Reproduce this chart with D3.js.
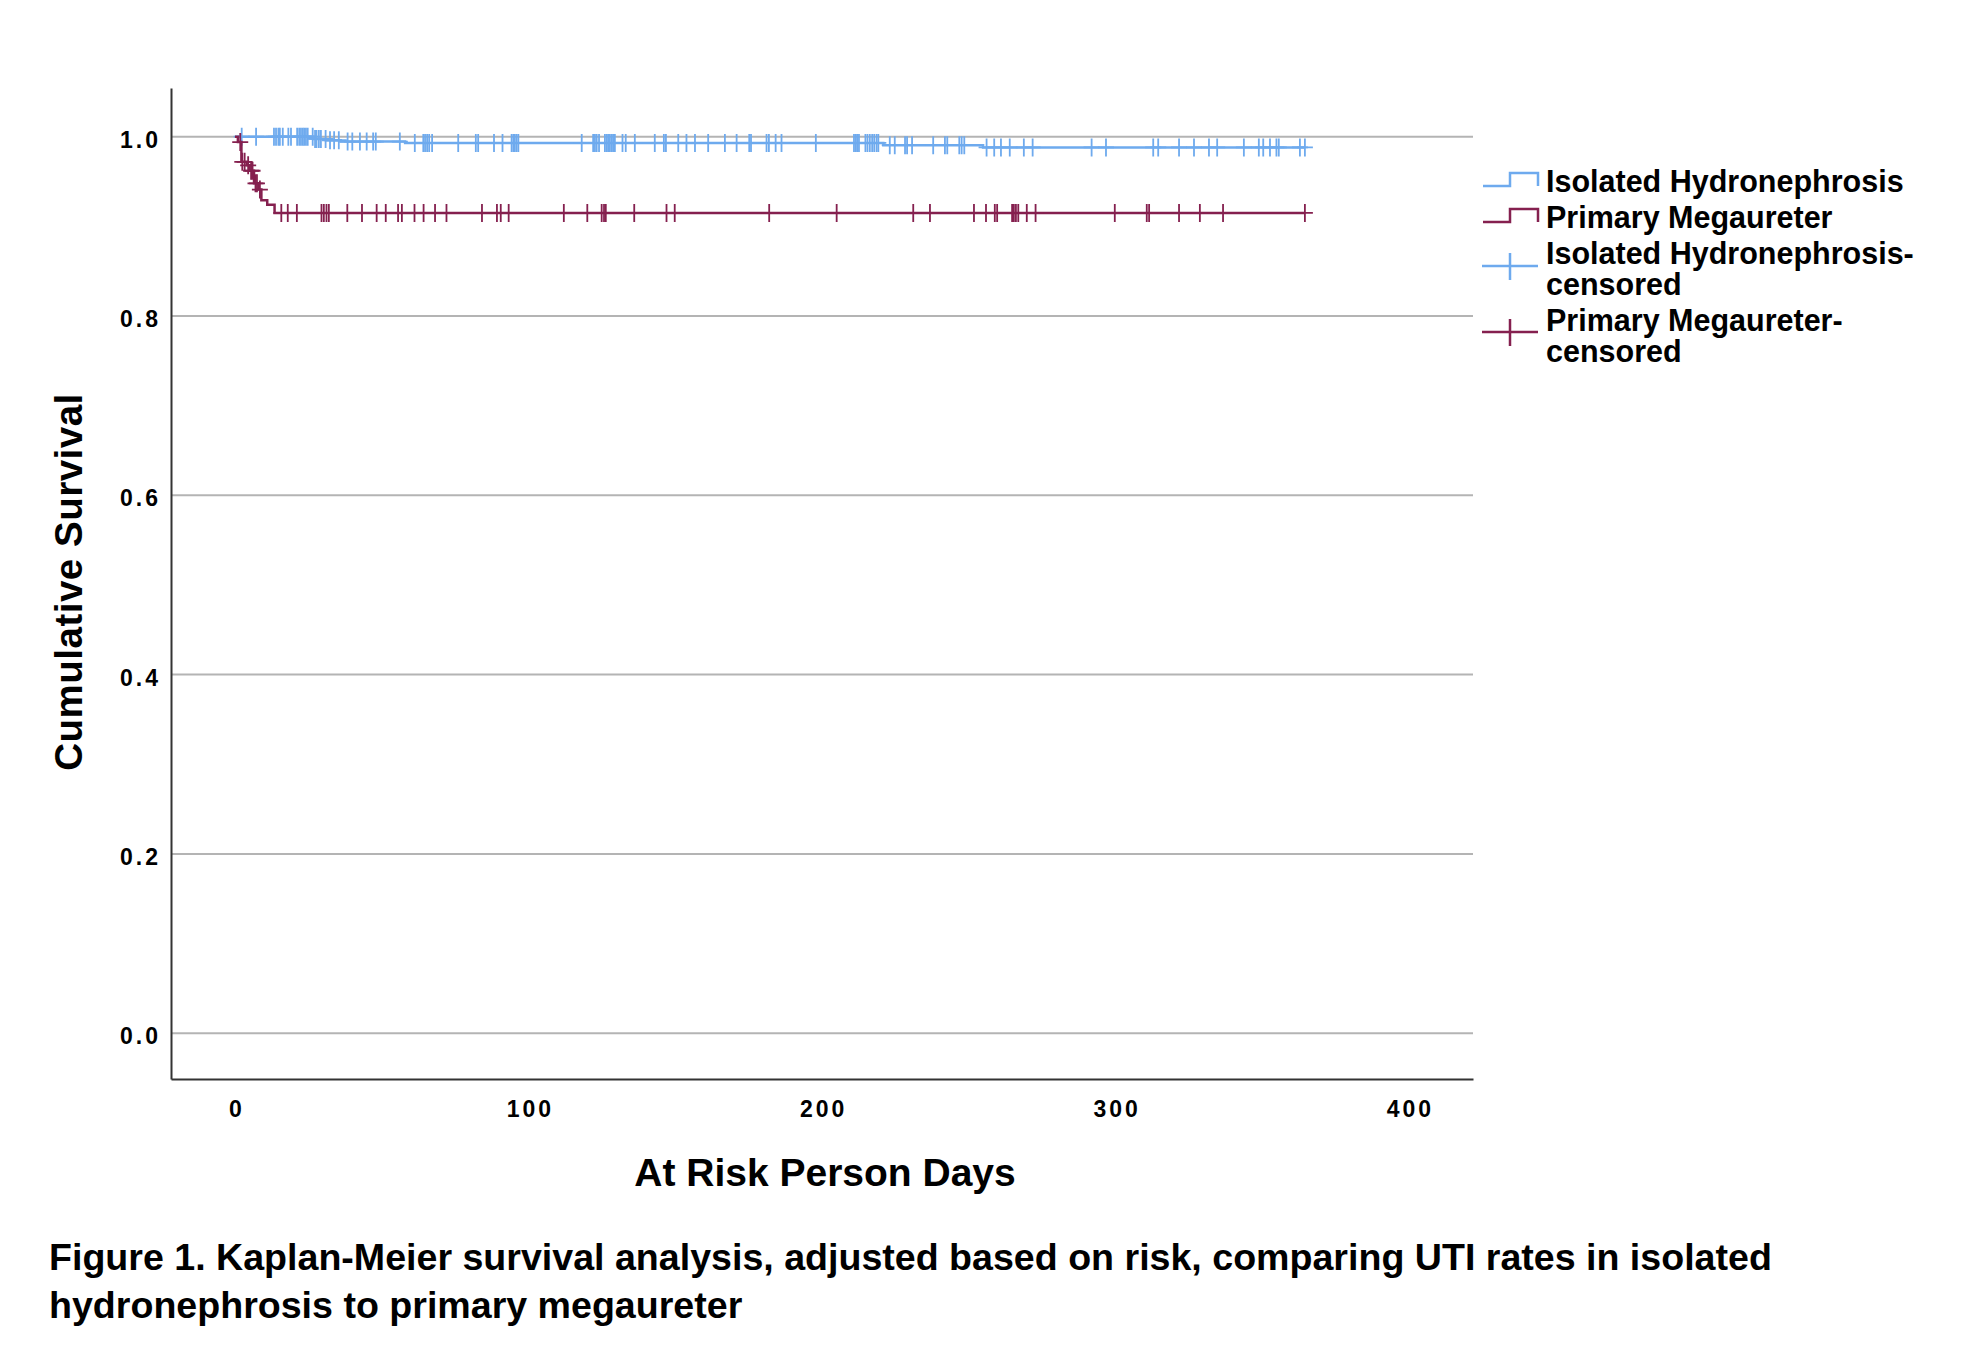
<!DOCTYPE html>
<html>
<head>
<meta charset="utf-8">
<script src="https://cdn.jsdelivr.net/npm/d3@7"></script>
<style>
  body { margin: 0; background: #fff; }
  text { font-family: "Liberation Sans", Arial, Helvetica, sans-serif; font-weight: bold; fill: #000; }
</style>
</head>
<body>
<div id="chart"></div>
<script>
// Kaplan-Meier steps: day -> cumulative survival
var hydroStepDays = [0, 27, 31, 36, 58, 221, 255];
var hydroStepSurv = [1.0, 0.9975, 0.996, 0.9945, 0.993, 0.9905, 0.988];
var hydroCensorDays = [2.3, 7.2, 13.3, 14, 14.8, 15.3, 16.3, 18.2, 19.1, 21.2, 21.9, 22.5, 23.1, 23.6, 24.2, 24.8,
    26.5, 27.3, 27.8, 28.6, 29.3, 30.9, 32.4, 33.8, 35.4, 38.4, 40, 42.6, 44.9, 47.1, 48, 56.2, 61.3, 64.2, 64.8,
    65.5, 66.2, 67.2, 76.1, 82.1, 82.9, 88.3, 91.2, 94.3, 94.9, 95.4, 96, 96.6,
    118.2, 122.1, 122.7, 123.3, 124.1, 126.1, 126.7, 127.2, 127.8, 128.4, 128.9, 129.5, 132.1, 133.2, 136.3,
    143.1, 146.2, 146.9, 151.1, 153.9, 156.8, 161.3, 167, 171, 175.3, 175.9, 181.2, 182, 184.3, 186.3,
    198, 211, 211.6, 212.1, 212.7, 214.9, 215.6, 216.4, 217.2, 217.9, 218.7, 219.3, 223.2, 224.9, 228.4, 229.1,
    230.8, 238, 242, 242.8, 246.9, 247.7, 248.6, 256.2, 258.8, 261.1, 264.1, 268.9, 271.9, 292,
    296.9, 313, 314.7, 321.8, 326.9, 332, 334.8, 343.9, 349, 350.5, 352.8, 355, 355.8, 363, 364.7];

var megaStepDays = [0, 1, 2.2, 4, 5, 6.5, 8, 9, 11, 13.5];
var megaStepSurv = [1.0, 0.994, 0.972, 0.968, 0.962, 0.948, 0.941, 0.929, 0.924, 0.915];
var megaCensorDays = [1.8, 2.5, 3.3, 4.5, 5.5, 6, 7, 7.5, 8.5,
    15.8, 18, 21.1, 29.5, 30.3, 31.2, 32, 38.3, 43.3, 48.3, 51.4, 55.6, 56.9, 61.2, 64.3, 68.2, 72.1,
    84.2, 89.3, 90.6, 93.3, 112.1, 120.1, 125, 125.8, 126.4, 136.1, 147.1, 149.9, 182.1, 205.1,
    231.2, 236.9, 251.9, 256, 259, 259.8, 264.9, 265.5, 266.2, 267, 269.9, 272.9,
    299.9, 310.8, 311.6, 321.8, 328.9, 336.8, 364.7];
var lastDay = 364.7;

var xTicks = [0, 100, 200, 300, 400];
var yTicks = [0.0, 0.2, 0.4, 0.6, 0.8, 1.0];
var legendLabels = [["Isolated Hydronephrosis"], ["Primary Megaureter"],
    ["Isolated Hydronephrosis-", "censored"], ["Primary Megaureter-", "censored"]];
var xTitle = "At Risk Person Days";
var yTitle = "Cumulative Survival";
var captionLines = ["Figure 1. Kaplan-Meier survival analysis, adjusted based on risk, comparing UTI rates in isolated",
    "hydronephrosis to primary megaureter"];

var blue = "#6eaaee", maroon = "#85204f";

var W = 1961, H = 1349;
var plot = {left: 171, right: 1473, top: 88, bottom: 1079};

var svg = d3.select("#chart").append("svg")
    .attr("width", W).attr("height", H);

var x = d3.scaleLinear().domain([-21.8, 422.0]).range([plot.left, plot.right]);
var y = d3.scaleLinear().domain([-0.0511, 1.0543]).range([plot.bottom, plot.top]);

// gridlines
svg.append("g").selectAll("line")
    .data(yTicks).enter().append("line")
    .attr("x1", plot.left).attr("x2", plot.right)
    .attr("y1", function(d) { return y(d); }).attr("y2", function(d) { return y(d); })
    .attr("stroke", "#b4b4b4").attr("stroke-width", 2);

// axes
var yAxis = svg.append("g")
    .attr("transform", "translate(" + plot.left + ",0)")
    .call(d3.axisLeft(y).tickValues(yTicks).tickSize(0).tickSizeOuter(0).tickPadding(10).tickFormat(d3.format(".1f")));
yAxis.select(".domain").attr("stroke", "#333").attr("stroke-width", 2);
yAxis.selectAll("text").attr("dy", "0.46em").style("font-size", "23px").style("letter-spacing", "3px");

var xAxis = svg.append("g")
    .attr("transform", "translate(0," + plot.bottom + ")")
    .call(d3.axisBottom(x).tickValues(xTicks).tickSize(0).tickSizeOuter(0).tickFormat(d3.format("d")));
xAxis.select(".domain").attr("stroke", "#333").attr("stroke-width", 2);
xAxis.selectAll("text").attr("y", 38).attr("dy", 0).attr("dx", "1.5px")
    .style("font-size", "23px").style("letter-spacing", "3px");

// titles
svg.append("text")
    .attr("x", 825).attr("y", 1186)
    .attr("text-anchor", "middle")
    .style("font-size", "39px")
    .text(xTitle);

svg.append("text")
    .attr("transform", "translate(82,582)rotate(-90)")
    .attr("text-anchor", "middle")
    .style("font-size", "38.5px")
    .style("letter-spacing", "0.5px")
    .text(yTitle);

// survival curves
function survAt(days, surv, t) {
    var i = d3.bisectRight(days, t) - 1;
    return surv[Math.max(i, 0)];
}
var line = d3.line()
    .x(function(d) { return x(d[0]); })
    .y(function(d) { return y(d[1]); })
    .curve(d3.curveStepAfter);

var groups = [
    {days: hydroStepDays, surv: hydroStepSurv, cens: hydroCensorDays, color: blue},
    {days: megaStepDays, surv: megaStepSurv, cens: megaCensorDays, color: maroon}
];

groups.forEach(function(g) {
    var pts = g.days.map(function(d, i) { return [d, g.surv[i]]; });
    pts.push([lastDay, g.surv[g.surv.length - 1]]);
    svg.append("path")
        .datum(pts)
        .attr("d", line)
        .attr("fill", "none")
        .attr("stroke", g.color)
        .attr("stroke-width", 2.5);

    // censor crosses
    svg.append("g").selectAll("path")
        .data(g.cens).enter().append("path")
        .attr("d", function(t) {
            var cx = x(t), cy = y(survAt(g.days, g.surv, t));
            return "M" + (cx - 8) + "," + cy + "H" + (cx + 8) + "M" + cx + "," + (cy - 9) + "V" + (cy + 9);
        })
        .attr("fill", "none")
        .attr("stroke", g.color)
        .attr("stroke-width", 1.8);
});

// legend
var legendColors = [blue, maroon, blue, maroon];
var legendSymY = [186, 222, 266, 332];
var legendTextY = [[192, null], [228, null], [264, 295], [331, 362]];
legendLabels.forEach(function(lab, i) {
    var sy = legendSymY[i];
    var d;
    if (i < 2) {
        d = "M1483," + sy + "H1510V" + (sy - 13) + "H1538V" + sy;
    } else {
        d = "M1482," + sy + "H1538M1510," + (sy - 13) + "V" + (sy + 14);
    }
    svg.append("path").attr("d", d).attr("fill", "none")
        .attr("stroke", legendColors[i]).attr("stroke-width", 2.5);
    lab.forEach(function(t, j) {
        svg.append("text")
            .attr("x", 1546).attr("y", legendTextY[i][j])
            .style("font-size", "30.5px")
            .text(t);
    });
});

// caption
svg.selectAll(".caption")
    .data(captionLines).enter().append("text")
    .attr("class", "caption")
    .attr("x", 49)
    .attr("y", function(d, i) { return 1270 + i * 48; })
    .style("font-size", "37.6px")
    .text(function(d) { return d; });
</script>
</body>
</html>
